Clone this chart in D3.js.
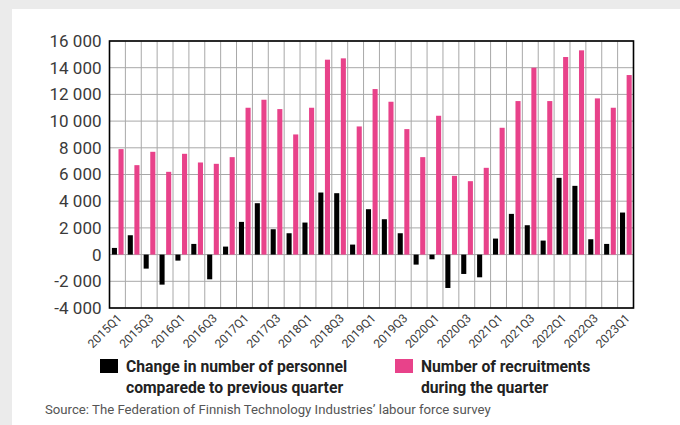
<html>
<head>
<script src="https://d3js.org/d3.v7.min.js"></script>
<style>
  body { margin: 0; background: #ebebeb; }
  svg { display: block; }
</style>
</head>
<body>
<svg id="chart" width="680" height="425"></svg>
<script>
// quarters 2015Q1 .. 2023Q1
var quarters = [];
for (var yr = 2015; yr <= 2023; yr++) {
    for (var q = 1; q <= 4; q++) {
        if (yr == 2023 && q > 1) break;
        quarters.push(yr + "Q" + q);
    }
}

var personnelChange = [500, 1450, -1050, -2250, -450, 800, -1850, 600,
    2450, 3850, 1900, 1600, 2400, 4650, 4600, 750,
    3400, 2650, 1600, -750, -350, -2500, -1450, -1700,
    1200, 3050, 2200, 1050, 5750, 5150, 1150, 800, 3150];

var recruitments = [7900, 6700, 7700, 6200, 7550, 6900, 6800, 7300,
    11000, 11600, 10900, 9000, 11000, 14600, 14700, 9600,
    12400, 11450, 9400, 7300, 10400, 5900, 5500, 6500,
    9500, 11500, 14000, 11500, 14800, 15300, 11700, 11000, 13450];

var yTicks = [-4000, -2000, 0, 2000, 4000, 6000, 8000, 10000, 12000, 14000, 16000];
var yTickLabels = ["-4 000", "-2 000", "0", "2 000", "4 000", "6 000", "8 000", "10 000", "12 000", "14 000", "16 000"];

var xTickLabels = quarters.filter(function(d, i) { return i % 2 == 0; });

var legendItems = [
    { lines: ["Change in number of personnel", "comparede to previous quarter"], color: "#000000" },
    { lines: ["Number of recruitments", "during the quarter"], color: "#e8428a" }
];

var sourceText = "Source: The Federation of Finnish Technology Industries\u2019 labour force survey";

var svg = d3.select("#chart");
var plotLeft = 109.5, plotTop = 41, plotW = 524, plotH = 267;

// white panel
svg.append("rect").attr("x", 12).attr("y", 9).attr("width", 668).attr("height", 416).attr("fill", "white");

var x = d3.scaleBand().domain(quarters).range([plotLeft, plotLeft + plotW]).padding(0);
var y = d3.scaleLinear().domain([-4000, 16000]).range([plotTop + plotH, plotTop]);
var bw = x.bandwidth();

// grid
var grid = svg.append("g").attr("stroke", "#a8a8a8").attr("stroke-width", 1);
grid.selectAll("line.h").data(yTicks).enter().append("line")
    .attr("x1", plotLeft).attr("x2", plotLeft + plotW)
    .attr("y1", function(d) { return y(d); }).attr("y2", function(d) { return y(d); });
grid.selectAll("line.v").data(quarters.slice(1)).enter().append("line")
    .attr("y1", plotTop).attr("y2", plotTop + plotH)
    .attr("x1", function(d) { return x(d); }).attr("x2", function(d) { return x(d); });

// bars
svg.append("g").selectAll("rect").data(quarters).enter().append("rect")
    .attr("x", function(d) { return x(d) + bw * 0.15; })
    .attr("width", bw * 0.32)
    .attr("y", function(d, i) { return y(Math.max(0, personnelChange[i])); })
    .attr("height", function(d, i) { return Math.abs(y(personnelChange[i]) - y(0)); })
    .attr("fill", "#000");

svg.append("g").selectAll("rect").data(quarters).enter().append("rect")
    .attr("x", function(d) { return x(d) + bw * 0.567; })
    .attr("width", bw * 0.32)
    .attr("y", function(d, i) { return y(recruitments[i]); })
    .attr("height", function(d, i) { return y(0) - y(recruitments[i]); })
    .attr("fill", "#e8428a");

// frame
svg.append("rect").attr("x", plotLeft).attr("y", plotTop).attr("width", plotW).attr("height", plotH)
    .attr("fill", "none").attr("stroke", "#000").attr("stroke-width", 1.6);

// y axis labels
var yAxis = svg.append("g")
    .attr("transform", "translate(" + plotLeft + ",0)")
    .call(d3.axisLeft(y).tickValues(yTicks).tickSize(0).tickPadding(8)
        .tickFormat(function(d, i) { return yTickLabels[i]; }));
yAxis.select(".domain").remove();
yAxis.selectAll("text")
    .attr("font-family", "Roboto, sans-serif")
    .attr("font-size", 17)
    .attr("fill", "#3a3a3a");

// x axis labels
var xAxis = svg.append("g")
    .attr("transform", "translate(0," + (plotTop + plotH) + ")")
    .call(d3.axisBottom(x).tickValues(xTickLabels).tickSize(0).tickPadding(0));
xAxis.select(".domain").remove();
xAxis.selectAll("text")
    .attr("font-family", "Roboto, sans-serif")
    .attr("font-size", 12)
    .attr("fill", "#3a3a3a")
    .attr("text-anchor", "end")
    .attr("y", 0)
    .attr("dy", "0.35em")
    .attr("transform", "translate(2,8) rotate(-45)");

// legend
var legendX = [100, 395];
legendItems.forEach(function(item, i) {
    var g = svg.append("g").attr("transform", "translate(" + legendX[i] + ",359)");
    g.append("rect").attr("width", 18).attr("height", 14).attr("fill", item.color);
    g.append("text")
        .attr("x", 26).attr("y", 13)
        .attr("font-family", "Roboto, sans-serif")
        .attr("font-weight", "bold")
        .attr("font-size", 15.7)
        .attr("fill", "#222")
        .selectAll("tspan").data(item.lines).enter().append("tspan")
        .attr("x", 26)
        .attr("dy", function(d, j) { return j == 0 ? 0 : 21; })
        .text(function(d) { return d; });
});

svg.append("text")
    .attr("x", 45).attr("y", 414)
    .attr("font-family", "Roboto, sans-serif")
    .attr("font-size", 13.2)
    .attr("fill", "#555")
    .text(sourceText);
</script>
</body>
</html>
